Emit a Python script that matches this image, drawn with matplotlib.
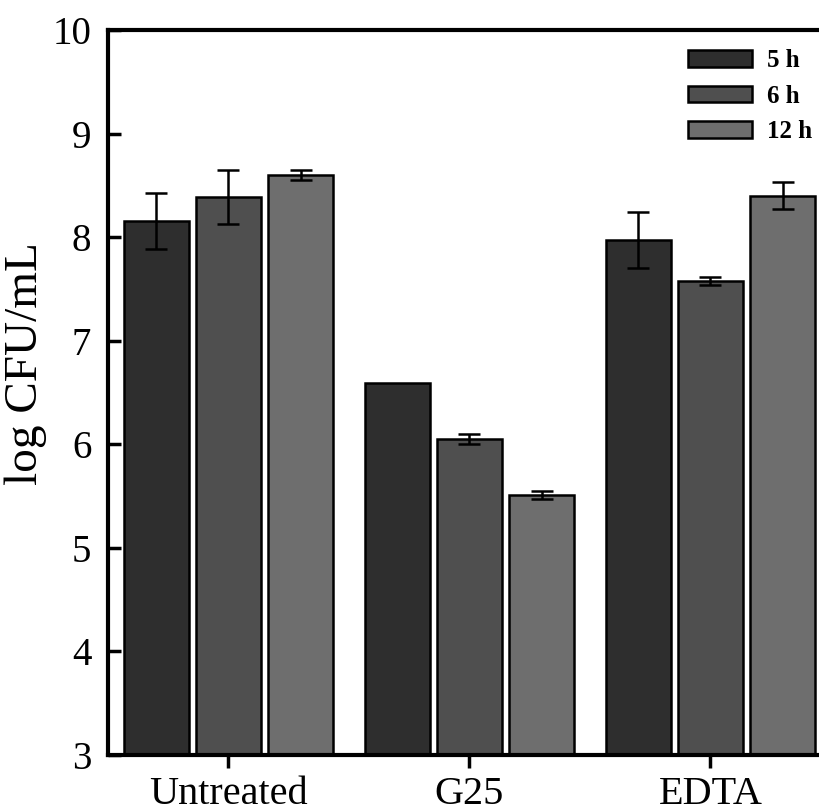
import matplotlib
matplotlib.use('Agg')
import matplotlib.pyplot as plt
import numpy as np

plt.rcParams['font.family'] = ['Liberation Serif', 'DejaVu Serif']

groups = ['Untreated', 'G25', 'EDTA']
series = ['5 h', '6 h', '12 h']
vals_5h = [8.16, 6.59, 7.97]
vals_6h = [8.39, 6.05, 7.58]
vals_12h = [8.60, 5.51, 8.40]
err_5h = [0.27, np.nan, 0.27]
err_6h = [0.26, 0.05, 0.04]
err_12h = [0.045, 0.04, 0.13]
colors = ['#2e2e2e', '#4f4f4f', '#6e6e6e']

fig = plt.figure(figsize=(8.2, 8.05), dpi=100)
ax = fig.add_axes([0.1317, 0.0621, 0.8817, 0.9006])

x = np.arange(len(groups))
w = 0.27
offs = [-0.3, 0.0, 0.3]
for vals, errs, c, off, lab in zip([vals_5h, vals_6h, vals_12h],
                                   [err_5h, err_6h, err_12h],
                                   colors, offs, series):
    ax.bar(x + off, np.array(vals) - 3, w, bottom=3, color=c,
           edgecolor='black', linewidth=1.8, label=lab)
    ax.errorbar(x + off, vals, yerr=errs, fmt='none', ecolor='black',
                elinewidth=1.8, capthick=1.8, capsize=8)

ax.set_xlim(-0.5, 2.5)
ax.set_ylim(3, 10)
ax.set_yticks(range(3, 11))
ax.set_xticks(x)
ax.set_xticklabels(groups)
ax.tick_params(axis='y', direction='in', length=9, width=2.5, labelsize=28, pad=12)
ax.tick_params(axis='x', direction='out', length=9, width=2.5, labelsize=29, pad=6)
ax.set_ylabel('log CFU/mL', fontsize=34)
ax.yaxis.set_label_coords(-0.085, 0.54)
for s in ax.spines.values():
    s.set_linewidth(3)

ax.legend(loc='upper left', bbox_to_anchor=(0.839, 0.939),
          bbox_transform=fig.transFigure, frameon=False,
          borderpad=0, borderaxespad=0,
          prop={'weight': 'bold', 'size': 18}, handlelength=2.55,
          handleheight=0.64, labelspacing=0.5, handletextpad=0.6)

fig.savefig('out.png', dpi=100)
